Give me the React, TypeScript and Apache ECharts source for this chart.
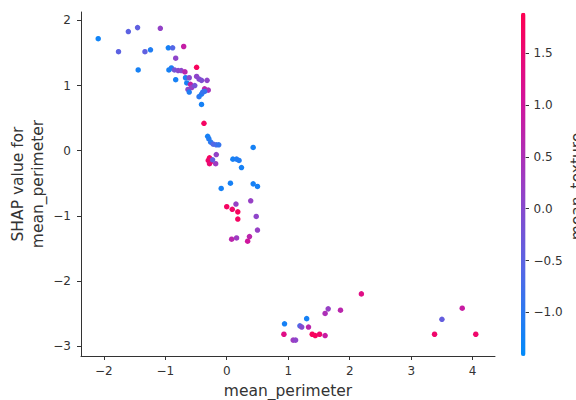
import React, { useEffect, useRef } from "react";
import * as echarts from "echarts";

// mean_perimeter (standardised feature value)
const featureX = [
  -2.09, -1.6, -1.45, -1.08, -1.76, -1.33, -1.24, -1.44, -0.95, -0.88,
  -0.7, -0.83, -0.94, -0.9, -0.85, -0.79, -0.74, -0.68, -0.49, -0.83,
  -0.67, -0.61, -0.65, -0.59, -0.49, -0.45, -0.41, -0.32, -0.63, -0.57,
  -0.52, -0.36, -0.3, -0.61, -0.45, -0.41, -0.39, -0.36, -0.41, -0.37,
  -0.31, -0.29, -0.26, -0.22, -0.17, -0.13, 0.43, -0.17, -0.28, -0.3,
  -0.26, -0.28, -0.18, -0.23, 0.1, 0.16, 0.2, 0.24, 0.06, -0.09,
  0.43, 0.5, 0.0, 0.09, 0.18, 0.18, 0.15, 0.39, 0.48, 0.5,
  0.08, 0.16, 0.37, 0.34, 0.94, 0.93, 1.3, 1.19, 1.22, 1.33,
  1.08, 1.12, 1.39, 1.44, 1.51, 1.6, 1.6, 1.65, 1.85, 2.19,
  3.38, 3.5, 3.83, 4.05,
];

// SHAP value for mean_perimeter
const shapValues = [
  1.72, 1.83, 1.89, 1.88, 1.52, 1.52, 1.55, 1.24, 1.58, 1.58,
  1.6, 1.42, 1.24, 1.27, 1.24, 1.23, 1.23, 1.21, 1.28, 1.09,
  1.12, 1.12, 1.04, 1.02, 1.14, 1.1, 1.08, 1.08, 0.94, 0.97,
  1.0, 0.95, 0.93, 0.9, 0.83, 0.87, 0.9, 0.91, 0.71, 0.42,
  0.22, 0.18, 0.13, 0.1, 0.09, 0.09, 0.05, -0.06, -0.11, -0.15,
  -0.17, -0.2, -0.2, -0.14, -0.13, -0.13, -0.15, -0.26, -0.5, -0.58,
  -0.51, -0.55, -0.86, -0.9, -0.94, -1.05, -0.82, -0.77, -1.01, -1.22,
  -1.36, -1.34, -1.32, -1.39, -2.66, -2.82, -2.58, -2.69, -2.71, -2.71,
  -2.91, -2.91, -2.82, -2.84, -2.82, -2.84, -2.5, -2.43, -2.45, -2.2,
  -2.82, -2.59, -2.42, -2.82,
];

// mean_texture (colour feature)
const meanTexture = [
  -1.25, -0.5, -0.45, 0.15, -0.5, -0.45, -1.1, -1.2, -1.2, -0.6,
  0.85, 0.1, -1.2, -1.1, -0.2, 0.0, 0.1, 0.7, 1.75, -1.2,
  -1.1, 0.0, -1.2, 0.8, 0.1, 0.0, -0.1, 0.1, 0.0, 0.2,
  -0.2, 0.7, 0.4, -1.1, -1.0, -1.1, -0.9, -0.9, -1.2, 1.7,
  -1.2, -1.1, -1.0, -0.6, -0.7, -0.9, -1.2, 0.15, 1.7, 1.6,
  1.7, 1.5, 0.3, -0.4, -1.2, -1.1, -1.1, -1.2, -1.2, -1.2,
  -1.2, -1.2, 1.7, 1.6, 1.75, 1.7, 0.2, 0.2, 0.1, 0.2,
  0.7, 0.3, 0.7, 1.0, -1.2, 1.3, -1.2, -0.6, 0.0, 0.7,
  0.3, 0.1, 1.75, 1.75, 1.6, 0.9, 0.5, 0.2, 0.7, 1.3,
  1.6, -0.4, 0.9, 1.6,
];

const xTicks = [-2, -1, 0, 1, 2, 3, 4];
const yTicks = [-3, -2, -1, 0, 1, 2];
const cbTicks = [-1.0, -0.5, 0.0, 0.5, 1.0, 1.5];

const FONT = "DejaVu Sans";
const AXIS = "#333333";

const fmt = (v: number, d: number) => {
  const s = Math.abs(v).toFixed(d);
  return v < 0 && Number(s) !== 0 ? "\u2212" + s : s;
};

export default function App() {
  const ref = useRef<HTMLDivElement>(null);
  useEffect(() => {
    if (!ref.current) return;
    const chart = echarts.init(ref.current, undefined, { renderer: "svg" });
    chart.setOption({
      animation: false,
      backgroundColor: "#ffffff",
      textStyle: { fontFamily: FONT },
      grid: [
        { left: 81, top: 12, width: 414, height: 344, containLabel: false, outerBoundsMode: "none" },
        { left: 521, top: 12.7, width: 4.5, height: 343.3, containLabel: false, outerBoundsMode: "none" },
      ],
      xAxis: [
        {
          type: "value",
          gridIndex: 0,
          min: -2.37,
          max: 4.363,
          splitLine: { show: false },
          axisLine: { show: true, onZero: false, lineStyle: { color: AXIS, width: 1 } },
          axisTick: { show: true, customValues: xTicks, length: 4, lineStyle: { color: AXIS } },
          axisLabel: {
            customValues: xTicks,
            formatter: (v: number) => fmt(v, 0),
            color: AXIS,
            fontSize: 12,
            margin: 9,
            fontFamily: FONT,
          },
          name: "mean_perimeter",
          nameLocation: "middle",
          nameGap: 26.5,
          nameMoveOverlap: false,
          nameTextStyle: { fontSize: 15.5, color: AXIS, fontFamily: FONT },
        },
        { type: "value", gridIndex: 1, show: false, min: 0, max: 1 },
      ],
      yAxis: [
        {
          type: "value",
          gridIndex: 0,
          min: -3.154,
          max: 2.13,
          splitLine: { show: false },
          axisLine: { show: true, onZero: false, lineStyle: { color: AXIS, width: 1 } },
          axisTick: { show: true, customValues: yTicks, length: 4, lineStyle: { color: AXIS } },
          axisLabel: {
            customValues: yTicks,
            formatter: (v: number) => fmt(v, 0),
            color: AXIS,
            fontSize: 12,
            margin: 10,
            fontFamily: FONT,
          },
          name: "SHAP value for\nmean_perimeter",
          nameLocation: "middle",
          nameRotate: 90,
          nameGap: 33,
          nameMoveOverlap: false,
          nameTextStyle: { fontSize: 15.5, lineHeight: 20, color: AXIS, fontFamily: FONT },
        },
        {
          type: "value",
          gridIndex: 1,
          position: "right",
          min: -1.42,
          max: 1.89,
          splitLine: { show: false },
          axisLine: { show: false, onZero: false },
          axisTick: { show: true, customValues: cbTicks, length: 3.5, lineStyle: { color: AXIS } },
          axisLabel: {
            customValues: cbTicks,
            formatter: (v: number) => fmt(v, 1),
            color: AXIS,
            fontSize: 12,
            margin: 8,
            fontFamily: FONT,
          },
        },
      ],
      visualMap: {
        type: "continuous",
        min: -1.42,
        max: 1.89,
        dimension: 2,
        seriesIndex: 0,
        calculable: false,
        orient: "vertical",
        left: 521,
        top: 12.7,
        itemWidth: 4.5,
        itemHeight: 343.3,
        padding: 0,
        text: null,
        inRange: { color: ["#008bfb", "#5467e6", "#9a3ec4", "#d3139a", "#ff0051"] },
      },
      series: [
        {
          type: "scatter",
          xAxisIndex: 0,
          yAxisIndex: 0,
          symbolSize: 5.5,
          itemStyle: { opacity: 1 },
          data: featureX.map((x, i) => [x, shapValues[i], meanTexture[i]]),
        },
      ],
      graphic: [
        {
          type: "text",
          x: 577,
          y: 186.5,
          rotation: Math.PI / 2,
          style: {
            text: "mean_texture",
            fontSize: 15.5,
            fontFamily: FONT,
            fill: AXIS,
            textAlign: "center",
            textVerticalAlign: "middle",
          },
        },
      ],
    });
    return () => chart.dispose();
  }, []);
  return (
    <div
      ref={ref}
      style={{ position: "fixed", left: 0, top: 0, width: 576, height: 400 }}
    />
  );
}
